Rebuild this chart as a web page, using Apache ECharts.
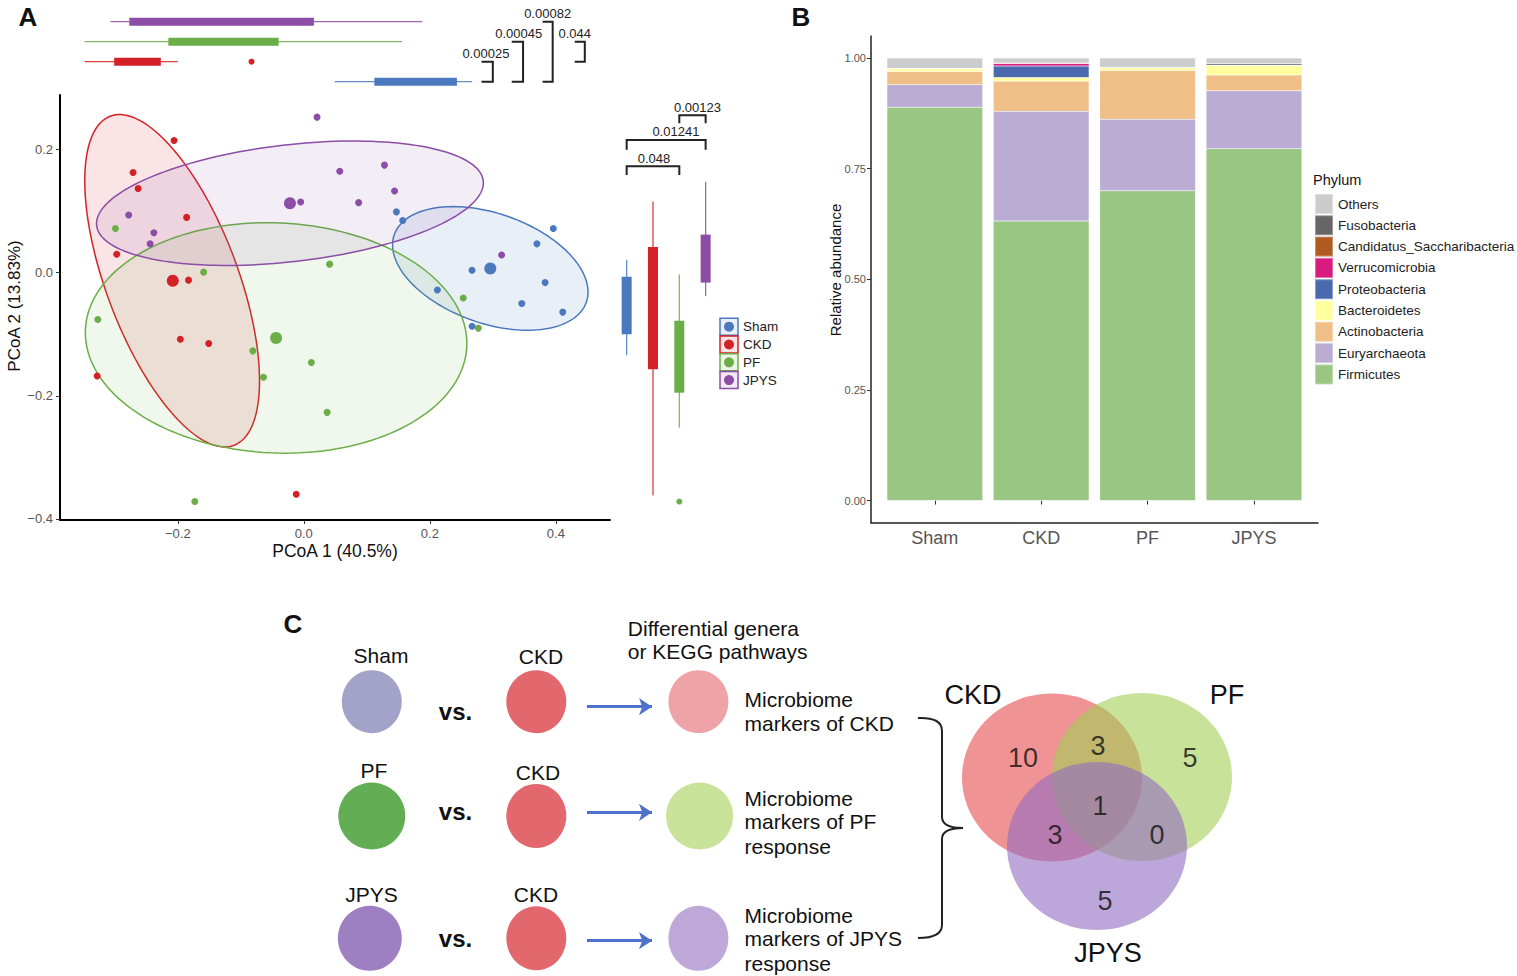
<!DOCTYPE html>
<html><head><meta charset="utf-8">
<script src="https://cdn.jsdelivr.net/npm/echarts@6/dist/echarts.min.js"></script>
<style>html,body{margin:0;padding:0;background:#fff}#c{width:1517px;height:976px}</style>
</head><body><div id="c"></div>
<script>
// ---------------- Panel A data ----------------
const groups = ['Sham', 'CKD', 'PF', 'JPYS'];
const groupColors = ['#4A79BF', '#D42127', '#6BAE47', '#8B4DA6'];
const shamPts = [[0.147,0.099],[0.157,0.085],[0.396,0.072],[0.370,0.047],[0.267,0.004],[0.383,-0.016],[0.212,-0.028],[0.346,-0.050],[0.411,-0.064],[0.267,-0.087]];
const ckdPts = [[-0.206,0.215],[-0.271,0.163],[-0.263,0.137],[-0.186,0.090],[-0.297,0.030],[-0.183,-0.012],[-0.196,-0.108],[-0.151,-0.115],[-0.328,-0.168],[-0.012,-0.360]];
const pfPts = [[-0.299,0.072],[-0.159,0.001],[0.041,0.014],[0.253,-0.041],[-0.327,-0.076],[-0.081,-0.127],[0.012,-0.146],[-0.064,-0.170],[-0.173,-0.372],[0.037,-0.227],[0.277,-0.090]];
const jpysPts = [[-0.278,0.094],[-0.238,0.065],[-0.244,0.047],[-0.005,0.115],[0.021,0.253],[0.057,0.165],[0.128,0.175],[0.144,0.133],[0.087,0.114],[0.314,0.029]];
const groupPts = [shamPts, ckdPts, pfPts, jpysPts];
const centroids = [[0.296,0.007],[-0.208,-0.013],[-0.044,-0.106],[-0.022,0.113]];
// ellipse per group: [cx, cy, semi-major, semi-minor, angle (deg)]
const ellipseParams = [[0.296,0.007,0.162,0.089,-20.2],[-0.209,-0.013,0.285,0.105,110],[-0.044,-0.106,0.303,0.187,-2.7],[-0.022,0.113,0.309,0.095,6.8]];
// marginal boxplots: [min, Q1, median, Q3, max]
const pcoa1Box = [[0.049,0.112,0.180,0.243,0.267],[-0.348,-0.301,-0.260,-0.227,-0.200],[-0.348,-0.215,-0.120,-0.040,0.156],[-0.307,-0.277,-0.100,0.016,0.188]];
const pcoa1Outliers = [[-0.083,1]];
const pcoa2Box = [[-0.134,-0.100,-0.050,-0.0065,0.021],[-0.362,-0.157,-0.050,0.042,0.116],[-0.252,-0.195,-0.130,-0.078,-0.003],[-0.038,-0.016,0.020,0.062,0.148]];
const pcoa2Outliers = [[2,-0.372]];
// significance brackets
const topPvals = ['0.00025','0.00045','0.00082','0.044'];
const topBracketCats = [[1,0],[2,0],[3,0],[2,1]];
const topBracketX = [[0.300,0.282,0.289],[0.348,0.330,0.341],[0.395,0.379,0.387],[0.446,0.430,0.430]]; // [vertical, tick start, label]
const sidePvals = ['0.048','0.01241','0.00123'];
const sideBracketCats = [[0,2],[0,3],[2,3]];
const sideBracketY = [[0.173,0.159,1.04],[0.216,0.200,1.87],[0.256,0.243,2.69]]; // [line, tick end, label x]
const xTicksA = [-0.2, 0, 0.2, 0.4];
const yTicksA = [-0.4, -0.2, 0, 0.2];

// ---------------- Panel B data ----------------
const samples = ['Sham', 'CKD', 'PF', 'JPYS'];
const phyla = ['Firmicutes','Euryarchaeota','Actinobacteria','Bacteroidetes','Proteobacteria','Verrucomicrobia','Candidatus_Saccharibacteria','Fusobacteria','Others'];
const phylumColors = ['#99C783','#BBACD3','#EFBF87','#FFFF9E','#4B6AAD','#D81B7E','#AE5A20','#666666','#CCCCCC'];
const firmicutes = [0.889, 0.632, 0.700, 0.795];
const euryarchaeota = [0.051, 0.248, 0.162, 0.131];
const actinobacteria = [0.030, 0.068, 0.110, 0.036];
const bacteroidetes = [0.006, 0.008, 0.006, 0.021];
const proteobacteria = [0.001, 0.026, 0.001, 0.001];
const verrucomicrobia = [0.000, 0.006, 0.000, 0.000];
const candidatus = [0.000, 0.001, 0.000, 0.000];
const fusobacteria = [0.000, 0.000, 0.000, 0.003];
const others = [0.023, 0.011, 0.021, 0.013];
const phylumValues = [firmicutes, euryarchaeota, actinobacteria, bacteroidetes, proteobacteria, verrucomicrobia, candidatus, fusobacteria, others];
const yTicksB = [0, 0.25, 0.5, 0.75, 1];

// ---------------- Panel C data ----------------
const compareRows = [['Sham','CKD'],['PF','CKD'],['JPYS','CKD']];
const markerTexts = [['Microbiome','markers of CKD'],['Microbiome','markers of PF','response'],['Microbiome','markers of JPYS','response']];
// diagram nodes: [x, y, w, h, color]
const diagramNodes = [
  [371.8,701.7,60,63,'#A3A3C9'],[536.3,701.7,60,63,'#E2686E'],[698.4,701.7,60,63,'#EEA3A7'],
  [371.8,816,67,67,'#63AD55'],[536.3,816,60,64,'#E2686E'],[699.6,816,67,67,'#CAE39A'],
  [369.8,938.3,64,65,'#9E80C2'],[536.3,938.3,60,64,'#E2686E'],[698.4,938.3,60,65,'#BEA8D8']
];
const vennSets = ['CKD','PF','JPYS'];
const vennCentres = [[1052,777.5],[1142,777],[1097,846]];
const vennColors = ['rgb(230,75,77)','rgb(163,207,87)','rgb(145,107,193)'];
const vennCounts = [10, 3, 5, 1, 3, 0, 5]; // CKD only, CKD&PF, PF only, all, CKD&JPYS, PF&JPYS, JPYS only
const vennCountPos = [[1023,758],[1098,746],[1190,758],[1100,806],[1055,835],[1157,835],[1105,901]];

// ---------------- helpers ----------------
const FONT = "'Liberation Sans', Arial, sans-serif";
function rgba(hex, a){const n=parseInt(hex.slice(1),16);return `rgba(${(n>>16)&255},${(n>>8)&255},${n&255},${a})`;}
function fmtA(v){ if (Math.abs(v) < 1e-9) return '0.0'; return (v<0?'\u2212':'') + Math.abs(v).toFixed(1); }
function txt(x,y,s,size,opts){opts=opts||{};return {type:'text',x:x,y:y,rotation:opts.rot||0,silent:true,
  style:{text:s,font:(opts.bold?'bold ':'')+size+'px '+FONT,fill:opts.color||'#111',
  align:opts.align||'center',verticalAlign:'middle',textAlign:opts.align||'center',textVerticalAlign:'middle'}};}

const series = [];
// ellipses
series.push({
  type:'custom', xAxisIndex:0, yAxisIndex:0, silent:true, z:1,
  data: ellipseParams.map((e,i)=>[...e,i]), encode:{x:0,y:1},
  renderItem:function(params, api){
    const cx=api.value(0), cy=api.value(1), a=api.value(2), b=api.value(3), th=api.value(4)*Math.PI/180, g=api.value(5);
    const pts=[];
    for(let k=0;k<=160;k++){const t=k/160*2*Math.PI;const ex=a*Math.cos(t), ey=b*Math.sin(t);
      pts.push(api.coord([cx+ex*Math.cos(th)-ey*Math.sin(th), cy+ex*Math.sin(th)+ey*Math.cos(th)]));}
    return {type:'polygon', shape:{points:pts}, style:{fill:rgba(groupColors[g], g===2||g===3?0.1:0.12), stroke:groupColors[g], lineWidth:1.5}};
  }
});
groups.forEach((g,i)=>{
  series.push({type:'scatter', name:g, xAxisIndex:0, yAxisIndex:0, z:3, symbolSize:7, silent:true,
    itemStyle:{color:groupColors[i], opacity:1}, data: groupPts[i]});
});
series.push({type:'scatter', xAxisIndex:0, yAxisIndex:0, z:3, symbolSize:12, silent:true,
  data: centroids.map((c,i)=>({value:c, itemStyle:{color:groupColors[i], opacity:1}}))});

// top marginal boxplots (PCoA 1)
series.push({
  type:'custom', xAxisIndex:1, yAxisIndex:1, silent:true,
  data: pcoa1Box.map((b,i)=>[i,...b]), encode:{y:0, x:[1,2,3,4,5]},
  renderItem:function(params, api){
    const g=api.value(0), c=groupColors[g];
    const pMin=api.coord([api.value(1),g]), pMax=api.coord([api.value(5),g]);
    const pQ1=api.coord([api.value(2),g]), pQ3=api.coord([api.value(4),g]);
    const h=8;
    return {type:'group', children:[
      {type:'line', shape:{x1:pMin[0],y1:pMin[1],x2:pMax[0],y2:pMax[1]}, style:{stroke:c,lineWidth:1.3,opacity:0.85}},
      {type:'rect', shape:{x:pQ1[0],y:pQ1[1]-h/2,width:pQ3[0]-pQ1[0],height:h}, style:{fill:c}}
    ]};
  }
});
series.push({type:'scatter', xAxisIndex:1, yAxisIndex:1, symbolSize:6, silent:true,
  data: pcoa1Outliers.map(p=>({value:p, itemStyle:{color:groupColors[p[1]], opacity:1}}))});
// top brackets
series.push({
  type:'custom', xAxisIndex:1, yAxisIndex:1, silent:true,
  data: topBracketX.map((b,i)=>[b[0], topBracketCats[i][0], b[1], topBracketCats[i][1], b[2]]), encode:{x:0,y:1},
  renderItem:function(params, api){
    const xv=api.value(0), ct=api.value(1), xl=api.value(2), cb=api.value(3), xt=api.value(4);
    const p1=api.coord([xl,ct]), p2=api.coord([xv,ct]), p3=api.coord([xv,cb]), p4=api.coord([xl,cb]);
    const pt=api.coord([xt,ct]);
    return {type:'group', children:[
      {type:'polyline', shape:{points:[p1,p2,p3,p4]}, style:{stroke:'#222',lineWidth:2,fill:null}},
      {type:'text', x:pt[0], y:pt[1]-8, style:{text:topPvals[params.dataIndex], font:'13px '+FONT, fill:'#222', align:'center', verticalAlign:'middle', textAlign:'center', textVerticalAlign:'middle'}}
    ]};
  }
});

// side marginal boxplots (PCoA 2)
series.push({
  type:'custom', xAxisIndex:2, yAxisIndex:2, silent:true,
  data: pcoa2Box.map((b,i)=>[i,...b]), encode:{x:0, y:[1,2,3,4,5]},
  renderItem:function(params, api){
    const g=api.value(0), c=groupColors[g];
    const pMin=api.coord([g,api.value(1)]), pMax=api.coord([g,api.value(5)]);
    const pQ1=api.coord([g,api.value(2)]), pQ3=api.coord([g,api.value(4)]);
    const w=10;
    return {type:'group', children:[
      {type:'line', shape:{x1:pMin[0],y1:pMin[1],x2:pMax[0],y2:pMax[1]}, style:{stroke:c,lineWidth:1.3,opacity:0.85}},
      {type:'rect', shape:{x:pQ3[0]-w/2,y:pQ3[1],width:w,height:pQ1[1]-pQ3[1]}, style:{fill:c}}
    ]};
  }
});
series.push({type:'scatter', xAxisIndex:2, yAxisIndex:2, symbolSize:6, silent:true,
  data: pcoa2Outliers.map(p=>({value:p, itemStyle:{color:groupColors[p[0]], opacity:1}}))});
series.push({
  type:'custom', xAxisIndex:2, yAxisIndex:2, silent:true,
  data: sideBracketY.map((b,i)=>[sideBracketCats[i][0], b[0], sideBracketCats[i][1], b[1], b[2]]), encode:{x:0,y:1},
  renderItem:function(params, api){
    const c1=api.value(0), yl=api.value(1), c2=api.value(2), ye=api.value(3), xt=api.value(4);
    const p1=api.coord([c1,ye]), p2=api.coord([c1,yl]), p3=api.coord([c2,yl]), p4=api.coord([c2,ye]);
    const pt=api.coord([xt,yl]);
    return {type:'group', children:[
      {type:'polyline', shape:{points:[p1,p2,p3,p4]}, style:{stroke:'#222',lineWidth:2,fill:null}},
      {type:'text', x:pt[0], y:pt[1]-8, style:{text:sidePvals[params.dataIndex], font:'13px '+FONT, fill:'#222', align:'center', verticalAlign:'middle', textAlign:'center', textVerticalAlign:'middle'}}
    ]};
  }
});

// Panel B stacked bars (category axis)
phyla.forEach((p,i)=>{
  series.push({type:'bar', name:p, xAxisIndex:3, yAxisIndex:3, stack:'total', barWidth:'90%', silent:true,
    itemStyle:{color:phylumColors[i], borderColor:'rgba(255,255,255,0.35)', borderWidth:0.5},
    data: phylumValues[i]});
});

// Panel C: circles
series.push({type:'scatter', xAxisIndex:4, yAxisIndex:4, silent:true, z:2,
  data: diagramNodes.map(n=>({value:[n[0],n[1]], symbolSize:[n[2],n[3]], itemStyle:{color:n[4], opacity:1}}))});
series.push({type:'scatter', xAxisIndex:4, yAxisIndex:4, silent:true, z:2,
  data: vennCentres.map((c,i)=>({value:c, symbolSize:[180,168], itemStyle:{color:vennColors[i], opacity:0.6}}))});
series.push({type:'scatter', xAxisIndex:4, yAxisIndex:4, silent:true, z:4, symbolSize:0,
  data: vennCountPos.map((p,i)=>({value:[p[0],p[1]], name:String(vennCounts[i])})),
  label:{show:true, position:'inside', formatter:'{b}', color:'#111', fontSize:27, fontFamily:FONT}});
// arrows
series.push({type:'lines', coordinateSystem:'cartesian2d', xAxisIndex:4, yAxisIndex:4, silent:true, z:3,
  symbol:['none','arrow'], symbolSize:[0,13],
  lineStyle:{color:'#4C72C9', width:3, opacity:1},
  data: [706.7,812.3,940.7].map(y=>({coords:[[587,y],[652,y]]}))});

// graphic (labels)
const gfx = [];
gfx.push(txt(28,17,'A',26,{bold:true}), txt(801,17,'B',26,{bold:true}), txt(293,624,'C',26,{bold:true}));
gfx.push(txt(335,551,'PCoA 1 (40.5%)',17.5), txt(14,306,'PCoA 2 (13.83%)',17,{rot:Math.PI/2}));
gfx.push(txt(835,270,'Relative abundance',15,{rot:Math.PI/2}));
gfx.push(txt(1313,180,'Phylum',14.5,{align:'left'}));
// Panel A legend
groups.forEach((g,i)=>{
  const y=326.7+i*17.8;
  gfx.push({type:'rect', silent:true, shape:{x:720,y:y-8.5,width:18,height:17}, style:{fill:rgba(groupColors[i],0.12), stroke:groupColors[i], lineWidth:1.5}});
  gfx.push({type:'circle', silent:true, shape:{cx:729,cy:y,r:5}, style:{fill:groupColors[i]}});
  gfx.push(txt(743,y,g,13.5,{align:'left',color:'#222'}));
});
// Panel C texts
const leftLabelPos = [[381,655],[374,770.7],[371.4,894]];
const ckdLabelPos = [[541,656.7],[538,772.7],[536,894]];
compareRows.forEach((r,i)=>{
  gfx.push(txt(leftLabelPos[i][0],leftLabelPos[i][1],r[0],21));
  gfx.push(txt(ckdLabelPos[i][0],ckdLabelPos[i][1],r[1],21));
  gfx.push(txt(455.5,[711.7,811.7,938.3][i],'vs.',24,{bold:true}));
});
gfx.push(txt(627.8,628.3,'Differential genera',21,{align:'left'}), txt(627.8,651.7,'or KEGG pathways',21,{align:'left'}));
const markerY = [[699.3,723.3],[798.3,821.7,846.7],[915,938.3,963.3]];
markerTexts.forEach((lines,i)=>lines.forEach((s,k)=>gfx.push(txt(744.5,markerY[i][k],s,21,{align:'left'}))));
// brace
const braceStyle = {fill:null, stroke:'#222', lineWidth:2};
gfx.push(
  {type:'bezierCurve', silent:true, shape:{x1:918,y1:718,cpx1:942,cpy1:717,x2:942,y2:731}, style:braceStyle},
  {type:'line', silent:true, shape:{x1:942,y1:731,x2:942,y2:817}, style:braceStyle},
  {type:'bezierCurve', silent:true, shape:{x1:942,y1:817,cpx1:942,cpy1:828,x2:963,y2:828}, style:braceStyle},
  {type:'bezierCurve', silent:true, shape:{x1:963,y1:828,cpx1:942,cpy1:828,x2:942,y2:839}, style:braceStyle},
  {type:'line', silent:true, shape:{x1:942,y1:839,x2:942,y2:925}, style:braceStyle},
  {type:'bezierCurve', silent:true, shape:{x1:942,y1:925,cpx1:942,cpy1:938,x2:918,y2:938}, style:braceStyle}
);
// venn set labels
gfx.push(txt(973,695,'CKD',27), txt(1227,695,'PF',27), txt(1108,953,'JPYS',27));

const hiddenAxis = {show:false};
const option = {
  animation:false,
  backgroundColor:'#fff',
  textStyle:{fontFamily:FONT},
  grid:[
    {left:60, top:95, width:550, height:425},
    {left:60, top:11.7, width:550, height:80},
    {left:613.5, top:95, width:105.3, height:425},
    {left:881.6, top:36, width:425.6, height:486.7},
    {left:0, top:0, width:1517, height:976},
    {left:871, top:36, width:447, height:486.7}
  ],
  xAxis:[
    {type:'value', gridIndex:0, min:-0.387, max:0.486, splitLine:{show:false},
      axisLine:{onZero:false, lineStyle:{color:'#000', width:2}},
      axisTick:{show:true, length:4, customValues:xTicksA, lineStyle:{color:'#333'}},
      axisLabel:{customValues:xTicksA, formatter:fmtA, color:'#555', fontSize:13, margin:7}},
    {type:'value', gridIndex:1, min:-0.387, max:0.486, ...hiddenAxis},
    {type:'value', gridIndex:2, min:-0.5, max:3.5, ...hiddenAxis},
    {type:'category', gridIndex:3, data:samples, boundaryGap:true,
      axisLine:{show:false}, splitLine:{show:false},
      axisTick:{show:true, length:4, alignWithLabel:true, lineStyle:{color:'#333'}},
      axisLabel:{color:'#555', fontSize:18, margin:6}},
    {type:'value', gridIndex:4, min:0, max:1517, ...hiddenAxis},
    {type:'value', gridIndex:5, min:0, max:1, splitLine:{show:false},
      axisLine:{onZero:false, lineStyle:{color:'#222', width:1.5}},
      axisTick:{show:false}, axisLabel:{show:false}}
  ],
  yAxis:[
    {type:'value', gridIndex:0, min:-0.402, max:0.289, splitLine:{show:false},
      axisLine:{onZero:false, lineStyle:{color:'#000', width:2}},
      axisTick:{show:true, length:4, customValues:yTicksA, lineStyle:{color:'#333'}},
      axisLabel:{customValues:yTicksA, formatter:fmtA, color:'#555', fontSize:13, margin:7}},
    {type:'value', gridIndex:1, min:-0.5, max:3.5, ...hiddenAxis},
    {type:'value', gridIndex:2, min:-0.402, max:0.289, ...hiddenAxis},
    {type:'value', gridIndex:3, min:-0.05, max:1.05, ...hiddenAxis},
    {type:'value', gridIndex:4, min:0, max:976, inverse:true, ...hiddenAxis},
    {type:'value', gridIndex:5, min:-0.05, max:1.05, splitLine:{show:false},
      axisLine:{onZero:false, lineStyle:{color:'#222', width:1.5}},
      axisTick:{show:true, length:4, customValues:yTicksB, lineStyle:{color:'#333'}},
      axisLabel:{customValues:yTicksB, formatter:v=>v.toFixed(2), color:'#555', fontSize:11, margin:5}}
  ],
  legend:{
    data: phyla.slice().reverse(), orient:'vertical', left:1314, top:193, padding:0,
    itemWidth:18, itemHeight:20, itemGap:-0.7, icon:'rect', selectedMode:false,
    textStyle:{fontSize:13.5, color:'#222', fontFamily:FONT}
  },
  graphic:{elements:gfx},
  series: series
};
const chart = echarts.init(document.getElementById('c'), null, {renderer:'svg'});
chart.setOption(option);
</script></body></html>
